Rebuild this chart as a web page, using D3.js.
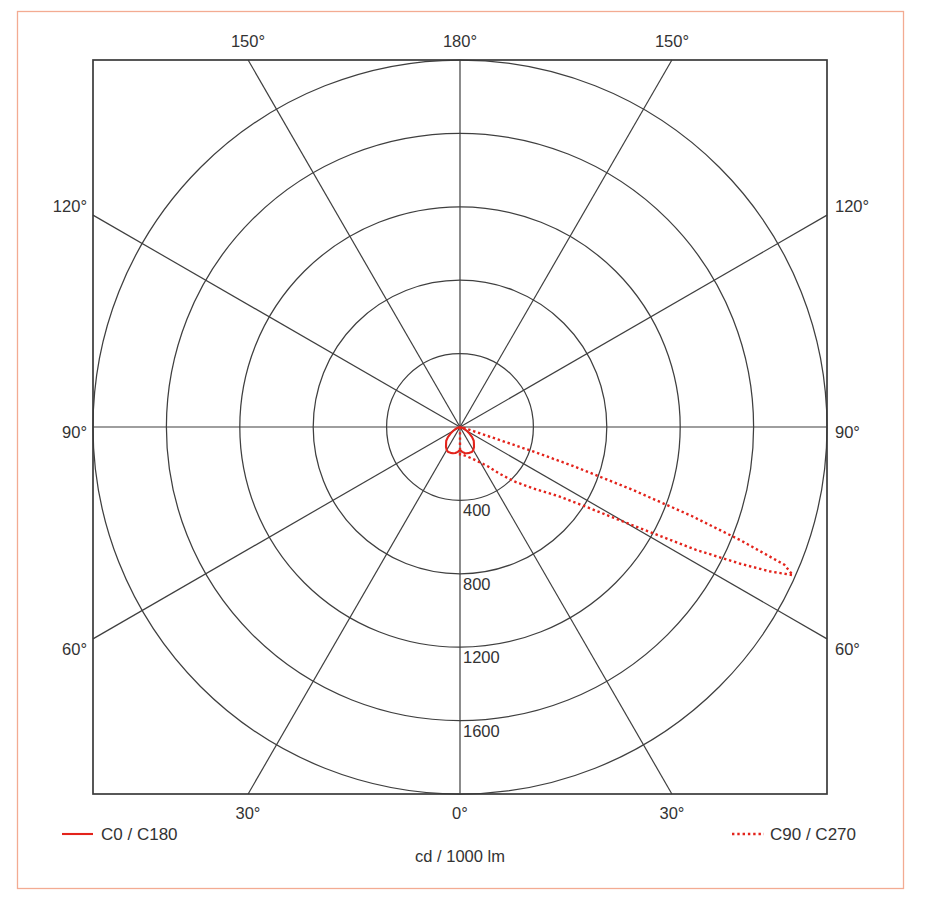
<!DOCTYPE html>
<html>
<head>
<meta charset="utf-8">
<script src="https://cdn.jsdelivr.net/npm/d3@7"></script>
<style>
  html, body { margin: 0; padding: 0; background: #ffffff; }
  text { font-family: "Liberation Sans", Arial, sans-serif; fill: #333333; }
</style>
</head>
<body>
<svg id="chart" width="932" height="912"></svg>
<script>
// ---- data ----
const radialTicks = [400, 800, 1200, 1600, 2000];
const radialTickLabels = ["400", "800", "1200", "1600"];
const spokeAngles = [0, 30, 60, 90, 120, 150, 180, 210, 240, 270, 300, 330];
const topLabels = ["150°", "180°", "150°"];
const sideLabels = ["120°", "90°", "60°"];
const bottomLabels = ["30°", "0°", "30°"];

// C0 / C180 (symmetric), gamma angles from nadir
const c0Angles = [0, 5, 10, 15, 20, 25, 30, 35, 40, 45, 50, 55, 60, 65, 70, 75, 80, 85, 90];
const c0Values = [125, 136, 144, 148, 150, 151, 145, 133, 118, 106, 86, 63, 44, 28, 16, 8, 3, 1, 0];
const c180Values = [125, 136, 144, 148, 150, 151, 145, 133, 118, 106, 86, 63, 44, 28, 16, 8, 3, 1, 0];

// C90 (right side) and C270 (left side)
const c90Angles = [0, 5, 10, 15, 20, 25, 30, 35, 40, 45, 50, 55, 57.5, 60, 62.5, 64, 65, 66, 67, 68, 69, 70, 71, 71.5, 72, 73, 75, 80, 85, 90];
const c90Values = [150, 152, 158, 168, 182, 200, 225, 260, 330, 420, 520, 660, 800, 1040, 1450, 1700, 1860, 1985, 1920, 1650, 1350, 1000, 650, 420, 180, 80, 40, 15, 5, 0];
const c270Angles = [0, 5, 90];
const c270Values = [150, 0, 0];

const legendLabels = ["C0 / C180", "C90 / C270"];
const unitLabel = "cd / 1000 lm";

// ---- layout ----
const svg = d3.select("#chart");
const cx = 460, cy = 427, R = 367;
const red = "#e3231b";
const gridColor = "#3f3f3f";

// outer border
svg.append("rect").attr("x", 17.5).attr("y", 11.5).attr("width", 886).attr("height", 877)
  .attr("fill", "none").attr("stroke", "#f3ab92").attr("stroke-width", 1.3);

const r = d3.scaleLinear().domain([0, 2000]).range([0, R]);
const g = svg.append("g").attr("transform", `translate(${cx},${cy})`);

// circles
g.selectAll("circle.grid").data(radialTicks).join("circle")
  .attr("class", "grid").attr("r", d => r(d))
  .attr("fill", "none").attr("stroke", gridColor).attr("stroke-width", 1.25);

// spokes (from center to square frame)
function spokeEnd(d) {
  const a = d * Math.PI / 180, dx = Math.sin(a), dy = Math.cos(a);
  const t = Math.min(Math.abs(dx) > 1e-9 ? R / Math.abs(dx) : Infinity, Math.abs(dy) > 1e-9 ? R / Math.abs(dy) : Infinity);
  return [dx * t, dy * t];
}
g.selectAll("line.spoke").data(spokeAngles).join("line")
  .attr("class", "spoke")
  .attr("x1", 0).attr("y1", 0)
  .attr("x2", d => spokeEnd(d)[0])
  .attr("y2", d => spokeEnd(d)[1])
  .attr("stroke", gridColor).attr("stroke-width", 1.2);

// frame
g.append("rect").attr("x", -R).attr("y", -R).attr("width", 2 * R).attr("height", 2 * R)
  .attr("fill", "none").attr("stroke", "#3a3a3a").attr("stroke-width", 1.7);

// radial tick labels
g.selectAll("text.rt").data(radialTickLabels).join("text")
  .attr("class", "rt").attr("x", 3).attr("y", (d, i) => r(radialTicks[i]) + 16)
  .attr("font-size", 16.5).text(d => d);

// angle labels
const sideY = [-221, 5, 222];
const tb = [-212, 0, 212];
svg.selectAll("text.top").data(topLabels).join("text").attr("class", "top")
  .attr("x", (d, i) => cx + tb[i]).attr("y", 47).attr("text-anchor", "middle").attr("font-size", 16.5).text(d => d);
svg.selectAll("text.bot").data(bottomLabels).join("text").attr("class", "bot")
  .attr("x", (d, i) => cx + tb[i]).attr("y", 819).attr("text-anchor", "middle").attr("font-size", 16.5).text(d => d);
svg.selectAll("text.left").data(sideLabels).join("text").attr("class", "left")
  .attr("x", 87).attr("y", (d, i) => cy + sideY[i] + 6).attr("text-anchor", "end").attr("font-size", 16.5).text(d => d);
svg.selectAll("text.right").data(sideLabels).join("text").attr("class", "right")
  .attr("x", 835).attr("y", (d, i) => cy + sideY[i] + 6).attr("text-anchor", "start").attr("font-size", 16.5).text(d => d);

// curves
const radial = d3.lineRadial().angle(d => d.a).radius(d => r(d.v)).curve(d3.curveLinear);
const toRad = deg => deg * Math.PI / 180;

// C0/C180: C180 on left (from 90 down to 0), C0 on right (0 to 90)
const c0pts = [];
for (let i = c0Angles.length - 1; i >= 0; i--) c0pts.push({ a: Math.PI + toRad(c0Angles[i]), v: c180Values[i] });
for (let i = 0; i < c0Angles.length; i++) c0pts.push({ a: Math.PI - toRad(c0Angles[i]), v: c0Values[i] });
g.append("path").attr("d", radial(c0pts)).attr("fill", "none").attr("stroke", red)
  .attr("stroke-width", 2.1).attr("stroke-linejoin", "round");

const c90pts = [];
for (let i = c270Angles.length - 1; i >= 0; i--) c90pts.push({ a: Math.PI + toRad(c270Angles[i]), v: c270Values[i] });
for (let i = 0; i < c90Angles.length; i++) c90pts.push({ a: Math.PI - toRad(c90Angles[i]), v: c90Values[i] });
g.append("path").attr("d", radial(c90pts)).attr("fill", "none").attr("stroke", red)
  .attr("stroke-width", 2.4).attr("stroke-dasharray", "2.4,2.8");

// legend
svg.append("line").attr("x1", 62).attr("x2", 93).attr("y1", 834).attr("y2", 834)
  .attr("stroke", red).attr("stroke-width", 2.1);
svg.append("text").attr("x", 101).attr("y", 840).attr("font-size", 17).text(legendLabels[0]);
svg.append("line").attr("x1", 732).attr("x2", 764).attr("y1", 834).attr("y2", 834)
  .attr("stroke", red).attr("stroke-width", 2.4).attr("stroke-dasharray", "2.4,2.9");
svg.append("text").attr("x", 770).attr("y", 840).attr("font-size", 17).text(legendLabels[1]);
svg.append("text").attr("x", cx).attr("y", 862).attr("text-anchor", "middle").attr("font-size", 16.5).text(unitLabel);
</script>
</body>
</html>
